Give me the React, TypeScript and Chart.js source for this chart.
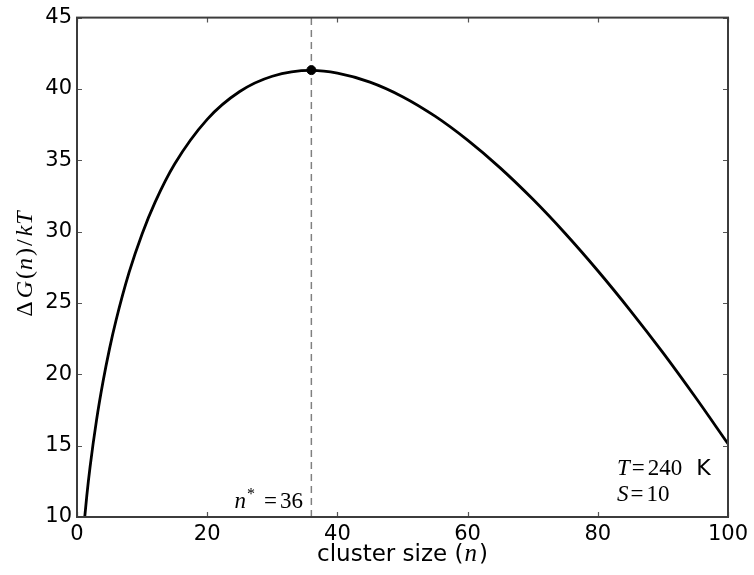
import React, { useEffect, useRef } from "react";
import { Chart, registerables } from "chart.js";

Chart.register(...registerables);

// Cluster sizes n and the free-energy barrier values
const clusterSizes = [1, 1.5, 2, 3, 4, 5, 6, 8, 10, 12, 15, 20, 25, 30, 36, 40, 45, 50, 55, 60, 65, 70, 75, 80, 85, 90, 95, 100];
const deltaG = [9.09, 11.47, 13.48, 16.79, 19.49, 21.8, 23.79, 27.14, 29.84, 32.07, 34.74, 37.87, 39.82, 40.89, 41.3, 41.11, 40.48, 39.46, 38.09, 36.41, 34.47, 32.28, 29.87, 27.26, 24.47, 21.52, 18.39, 15.13];

const criticalSize = 36;
const criticalBarrier = 41.32;

const xTicks = [0, 20, 40, 60, 80, 100];
const yTicks = [10, 15, 20, 25, 30, 35, 40, 45];

const SANS = "'DejaVu Sans', sans-serif";
const SERIF = "'Liberation Serif', 'DejaVu Serif', serif";

type Seg = { t: string; font: string; dy?: number; gap?: number };

function segWidth(ctx: CanvasRenderingContext2D, segs: Seg[]) {
  let w = 0;
  for (const s of segs) {
    ctx.font = s.font;
    w += ctx.measureText(s.t).width + (s.gap || 0);
  }
  return w;
}

function drawSegs(ctx: CanvasRenderingContext2D, segs: Seg[], x: number, y: number) {
  let cx = x;
  for (const s of segs) {
    ctx.font = s.font;
    ctx.fillText(s.t, cx, y + (s.dy || 0));
    cx += ctx.measureText(s.t).width + (s.gap || 0);
  }
}

const framePlugin = {
  id: "frameTicks",
  afterDraw(chart: any) {
    const { ctx, chartArea } = chart;
    const { left, right, top, bottom } = chartArea;
    const xs = chart.scales.x;
    const ys = chart.scales.y;
    ctx.save();
    // ticks pointing inward on all four sides
    ctx.strokeStyle = "#555555";
    ctx.lineWidth = 1.2;
    const tl = 5;
    ctx.beginPath();
    for (const v of xTicks) {
      const px = Math.round(xs.getPixelForValue(v)) + 0.5;
      ctx.moveTo(px, bottom);
      ctx.lineTo(px, bottom - tl);
      ctx.moveTo(px, top);
      ctx.lineTo(px, top + tl);
    }
    for (const v of yTicks) {
      const py = Math.round(ys.getPixelForValue(v)) + 0.5;
      ctx.moveTo(left, py);
      ctx.lineTo(left + tl, py);
      ctx.moveTo(right, py);
      ctx.lineTo(right - tl, py);
    }
    ctx.stroke();
    // frame
    ctx.strokeStyle = "#3c3c3c";
    ctx.lineWidth = 2;
    ctx.strokeRect(left, top, right - left, bottom - top);

    ctx.fillStyle = "#000000";
    ctx.textBaseline = "alphabetic";
    ctx.textAlign = "left";

    // x-axis title
    const xl: Seg[] = [
      { t: "cluster size (", font: `23px ${SANS}`, gap: 1 },
      { t: "n", font: `italic 25px ${SERIF}`, gap: 2 },
      { t: ")", font: `23px ${SANS}` },
    ];
    const xw = segWidth(ctx, xl);
    drawSegs(ctx, xl, (left + right) / 2 - xw / 2, 561);

    // y-axis title
    const yf = 24;
    const yl: Seg[] = [
      { t: "\u0394", font: `${yf}px ${SERIF}`, gap: 3 },
      { t: "G", font: `italic ${yf}px ${SERIF}`, gap: 2 },
      { t: "(", font: `${yf}px ${SERIF}`, gap: 1 },
      { t: "n", font: `italic ${yf}px ${SERIF}`, gap: 2 },
      { t: ")", font: `${yf}px ${SERIF}`, gap: 2 },
      { t: "/", font: `${yf}px ${SERIF}`, gap: 3 },
      { t: "k", font: `italic ${yf}px ${SERIF}`, gap: 1 },
      { t: "T", font: `italic ${yf}px ${SERIF}` },
    ];
    const yw = segWidth(ctx, yl);
    ctx.save();
    ctx.translate(32, 264);
    ctx.rotate(-Math.PI / 2);
    drawSegs(ctx, yl, -yw / 2, 0);
    ctx.restore();

    // n* annotation
    const ns: Seg[] = [
      { t: "n", font: `italic 23px ${SERIF}`, gap: 1 },
      { t: "*", font: `16px ${SERIF}`, dy: -9, gap: 9 },
      { t: "=", font: `23px ${SERIF}`, gap: 3 },
      { t: "36", font: `23px ${SERIF}` },
    ];
    const nw = segWidth(ctx, ns);
    drawSegs(ctx, ns, 303 - nw, 508);

    // T and S annotation
    drawSegs(ctx, [
      { t: "T", font: `italic 23px ${SERIF}`, gap: 2 },
      { t: "=", font: `23px ${SERIF}`, gap: 3 },
      { t: "240", font: `23px ${SERIF}`, gap: 7 },
      { t: " K", font: `22px ${SANS}` },
    ], 617, 475);
    drawSegs(ctx, [
      { t: "S", font: `italic 23px ${SERIF}`, gap: 2 },
      { t: "=", font: `23px ${SERIF}`, gap: 3 },
      { t: "10", font: `23px ${SERIF}` },
    ], 617, 501);
    ctx.restore();
  },
};

export default function App() {
  const ref = useRef<HTMLCanvasElement | null>(null);
  useEffect(() => {
    if (!ref.current) return;
    const curve = clusterSizes.map((n, i) => ({ x: n, y: deltaG[i] }));
    const chart = new Chart(ref.current, {
      type: "line",
      data: {
        datasets: [
          {
            data: [
              { x: criticalSize, y: 10 },
              { x: criticalSize, y: 45 },
            ],
            borderColor: "#808080",
            borderWidth: 1.5,
            borderDash: [7, 5],
            pointRadius: 0,
            order: 3,
          },
          {
            data: curve,
            borderColor: "#000000",
            borderWidth: 2.8,
            pointRadius: 0,
            cubicInterpolationMode: "monotone",
            order: 2,
          },
          {
            data: [{ x: criticalSize, y: criticalBarrier }],
            borderColor: "#000000",
            backgroundColor: "#000000",
            pointRadius: 4.5,
            showLine: false,
            order: 1,
          },
        ],
      },
      options: {
        responsive: false,
        animation: false,
        layout: { padding: { left: 0, right: 26, top: 13, bottom: 0 } },
        plugins: { legend: { display: false }, tooltip: { enabled: false } },
        scales: {
          x: {
            type: "linear",
            min: 0,
            max: 100,
            afterBuildTicks: (s: any) => {
              s.ticks = xTicks.map((v) => ({ value: v }));
            },
            afterFit: (s: any) => {
              s.height = 58;
            },
            ticks: {
              color: "#000000",
              font: { family: SANS, size: 21 },
              padding: 5,
              maxRotation: 0,
              autoSkip: false,
            },
            grid: { display: false, drawTicks: false },
            border: { display: false },
          },
          y: {
            type: "linear",
            min: 10,
            max: 45,
            afterBuildTicks: (s: any) => {
              s.ticks = yTicks.map((v) => ({ value: v }));
            },
            afterFit: (s: any) => {
              s.width = 77;
            },
            ticks: {
              color: "#000000",
              font: { family: SANS, size: 21 },
              padding: 5,
              autoSkip: false,
            },
            grid: { display: false, drawTicks: false },
            border: { display: false },
          },
        },
      },
      plugins: [framePlugin],
    });
    return () => chart.destroy();
  }, []);
  return (
    <div style={{ position: "fixed", left: 0, top: 0, width: 754, height: 575, background: "#ffffff" }}>
      <canvas ref={ref} width={754} height={575} style={{ width: 754, height: 575 }} />
    </div>
  );
}
